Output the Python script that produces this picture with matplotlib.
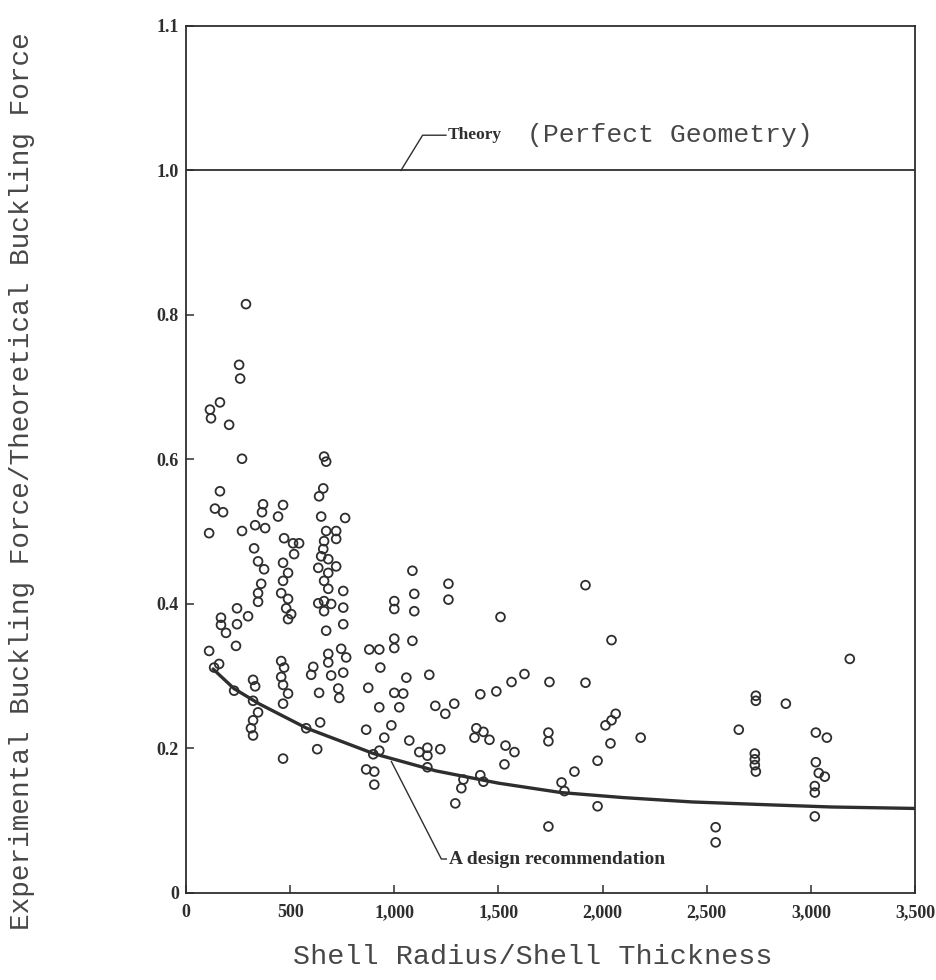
import numpy as np
import matplotlib
matplotlib.use("Agg")
import matplotlib.pyplot as plt

# Test results: shell radius/thickness ratio vs. buckling force ratio
ratio = [
    288, 255, 260, 163, 115, 120, 207, 269, 163, 139, 178, 370, 365, 466, 442,
    111, 269, 332, 380, 471, 514, 543, 327, 519, 346, 375, 466, 490, 361, 466,
    346, 457, 346, 490, 245, 481, 505, 490, 298, 168, 168, 192, 245, 240, 111,
    159, 135, 322, 332, 322, 346, 322, 312, 322, 231, 457, 471, 457, 466, 490,
    466, 466,
    663, 673, 659, 639, 649, 764, 673, 721, 663, 721, 659, 649, 683, 635, 683,
    721, 663, 683, 755, 635, 663, 697, 755, 663, 755, 673, 683, 683, 745, 769,
    755, 697, 611, 601, 639, 731, 736, 644, 577, 630,
    880, 928, 933, 875, 865, 928, 986, 952, 899, 928, 865, 904, 904, 1000, 1000,
    1087, 1096, 1096, 1000, 1000, 1087, 1058, 1000, 1043, 1168, 1024, 1072, 1120,
    1159, 1159, 1159, 1221, 1197, 1245, 1288, 1260, 1260,
    1510, 1625, 1563, 1490, 1413, 1394, 1428, 1385, 1457, 1534, 1577, 1529, 1332,
    1322, 1413, 1428, 1293, 1740, 1740, 1745, 1803, 1817, 1740, 1865, 1918, 1918,
    1976, 1976, 2043, 2063, 2043, 2014, 2038, 2183,
    2654, 2543, 2543, 2736, 2736, 2880, 2731, 2731, 2731, 2736, 3187, 3024, 3077,
    3024, 3038, 3067, 3019, 3019, 3019,
]
force_ratio = [
    0.815, 0.731, 0.712, 0.679, 0.669, 0.657, 0.648, 0.601, 0.556, 0.532, 0.527,
    0.538, 0.527, 0.537, 0.521, 0.498, 0.501, 0.509, 0.505, 0.491, 0.484, 0.484,
    0.477, 0.469, 0.459, 0.448, 0.457, 0.443, 0.428, 0.432, 0.415, 0.415, 0.403,
    0.407, 0.394, 0.394, 0.386, 0.379, 0.383, 0.381, 0.371, 0.360, 0.372, 0.342,
    0.335, 0.317, 0.312, 0.295, 0.286, 0.266, 0.250, 0.239, 0.228, 0.218, 0.280,
    0.321, 0.312, 0.299, 0.288, 0.276, 0.262, 0.186,
    0.604, 0.597, 0.560, 0.549, 0.521, 0.519, 0.501, 0.501, 0.487, 0.490, 0.476,
    0.466, 0.462, 0.450, 0.443, 0.452, 0.432, 0.421, 0.418, 0.401, 0.404, 0.400,
    0.395, 0.390, 0.372, 0.363, 0.331, 0.319, 0.338, 0.326, 0.305, 0.301, 0.313,
    0.302, 0.277, 0.283, 0.270, 0.236, 0.228, 0.199,
    0.337, 0.337, 0.312, 0.284, 0.226, 0.257, 0.232, 0.215, 0.192, 0.197, 0.171,
    0.168, 0.150, 0.404, 0.393, 0.446, 0.414, 0.390, 0.352, 0.339, 0.349, 0.298,
    0.277, 0.276, 0.302, 0.257, 0.211, 0.195, 0.201, 0.190, 0.174, 0.199, 0.259,
    0.248, 0.262, 0.428, 0.406,
    0.382, 0.303, 0.292, 0.279, 0.275, 0.228, 0.223, 0.215, 0.212, 0.204, 0.195,
    0.178, 0.157, 0.145, 0.163, 0.154, 0.124, 0.222, 0.210, 0.292, 0.153, 0.141,
    0.092, 0.168, 0.426, 0.291, 0.183, 0.120, 0.350, 0.248, 0.239, 0.232, 0.207,
    0.215,
    0.226, 0.091, 0.070, 0.273, 0.266, 0.262, 0.193, 0.185, 0.177, 0.168, 0.324,
    0.222, 0.215, 0.181, 0.166, 0.161, 0.148, 0.139, 0.106,
]

# Design recommendation curve
design_ratio = [130, 230, 350, 580, 900, 1200, 1500, 1800, 2100, 2430, 2800, 3100, 3500]
design_force = [0.310, 0.283, 0.262, 0.228, 0.193, 0.169, 0.152, 0.139, 0.132,
                0.126, 0.122, 0.119, 0.117]

theory_value = 1.0

x_ticks = [0, 500, 1000, 1500, 2000, 2500, 3000, 3500]
x_ticklabels = ["0", "500", "1,000", "1,500", "2,000", "2,500", "3,000", "3,500"]
y_ticks = [0, 0.2, 0.4, 0.6, 0.8, 1.0, 1.1]
y_ticklabels = ["0", "0.2", "0.4", "0.6", "0.8", "1.0", "1.1"]

INK = "#2e2e2e"
TEXT = "#474747"
MONO = "Liberation Mono"
SERIF = "Liberation Serif"


# Axis above 1.0 is stretched two-fold
def fwd(v):
    v = np.asarray(v, dtype=float)
    return np.where(v <= 1.0, v, 1.0 + 2.0 * (v - 1.0))


def inv(v):
    v = np.asarray(v, dtype=float)
    return np.where(v <= 1.0, v, 1.0 + (v - 1.0) / 2.0)


fig = plt.figure(figsize=(9.37, 9.80), dpi=100)
ax = fig.add_axes([0.1985, 0.0888, 0.7780, 0.8847])
ax.set_yscale("function", functions=(fwd, inv))

ax.scatter(ratio, force_ratio, s=40, facecolors="none", edgecolors=INK,
           linewidths=1.3, zorder=3)
ax.plot(design_ratio, design_force, color=INK, lw=2.4, solid_capstyle="round", zorder=2)
ax.axhline(theory_value, color=INK, lw=1.3, zorder=2)

ax.set_xlim(0, 3500)
ax.set_ylim(0, 1.1)
ax.set_xticks(x_ticks)
ax.set_xticklabels(x_ticklabels)
ax.set_yticks(y_ticks)
ax.set_yticklabels(y_ticklabels)
ax.minorticks_off()
ax.tick_params(direction="in", length=6, width=1.1, color=INK, labelcolor=INK)
ax.tick_params(axis="x", pad=8)
ax.tick_params(axis="y", pad=5)
for lab in ax.get_xticklabels() + ax.get_yticklabels():
    lab.set_fontfamily(SERIF)
    lab.set_fontweight("bold")
    lab.set_fontsize(13)

for sp in ax.spines.values():
    sp.set_color(INK)
    sp.set_linewidth(1.3)

# Theory annotation
ax.plot([1032, 1136, 1248], [1.0, 1.0244, 1.0244], color=INK, lw=1.0)
ax.text(1256, 1.0244, "Theory", family=SERIF, weight="bold", fontsize=12.5,
        color=INK, va="center", ha="left")
ax.text(1635, 1.0244, "(Perfect Geometry)", family=MONO, fontsize=19,
        color=TEXT, va="center", ha="left")

# Design recommendation annotation
ax.plot([986, 1226, 1250], [0.182, 0.047, 0.047], color=INK, lw=1.0)
ax.text(1262, 0.047, "A design recommendation", family=SERIF, weight="bold",
        fontsize=14, color=INK, va="center", ha="left")

fig.text(533 / 937, 1 - 957 / 980, "Shell Radius/Shell Thickness", family=MONO,
         fontsize=20.5, color=TEXT, ha="center", va="center")
fig.text(22 / 937, 1 - 481 / 980,
         "Experimental Buckling Force/Theoretical Buckling Force", family=MONO,
         fontsize=20, color=TEXT, ha="center", va="center", rotation=90)

fig.savefig("out.png", dpi=100, facecolor="white")
